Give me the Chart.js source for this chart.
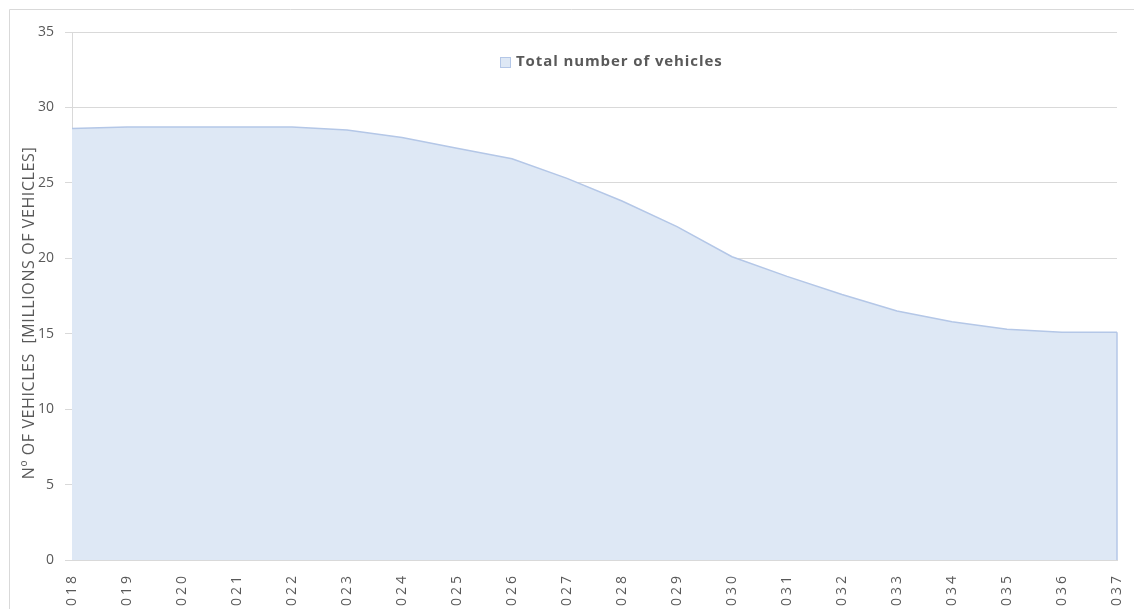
<!DOCTYPE html>
<html>
<head>
<meta charset="utf-8">
<title>Total number of vehicles</title>
<script src="https://cdn.jsdelivr.net/npm/chart.js@4.4.1/dist/chart.umd.min.js"></script>
<style>
    html, body { margin: 0; padding: 0; background: #fff; overflow: hidden; }
    #wrap { width: 1134px; height: 609px; overflow: hidden; }
</style>
</head>
<body>
<div id="wrap">
    <canvas id="areaChart" width="1134" height="650"></canvas>
</div>
<script>
var anios = ['2018', '2019', '2020', '2021', '2022', '2023', '2024', '2025', '2026', '2027',
             '2028', '2029', '2030', '2031', '2032', '2033', '2034', '2035', '2036', '2037'];
var totalVehiculos = [28.6, 28.7, 28.7, 28.7, 28.7, 28.5, 28.0, 27.3, 26.6, 25.3,
                      23.8, 22.1, 20.1, 18.8, 17.6, 16.5, 15.8, 15.3, 15.1, 15.1];
var etiquetaSerie = 'Total number of vehicles';
var tituloEjeY = 'Nº OF VEHICLES  [MILLIONS OF VEHICLES]';
var ejeYMin = 0;
var ejeYMax = 35;
var ejeYPaso = 5;

var colorTexto = '#595959';
var colorRejilla = '#d9d9d9';
var colorRelleno = '#dee8f5';
var colorLinea = '#b4c7e7';
var fuente = "'Open Sans', 'Liberation Sans', sans-serif";

// marco exterior, borde derecho del area, leyenda y titulo del eje Y
var pluginMarco = {
    id: 'marco',
    beforeDraw: function (chart) {
        var ctx = chart.ctx;
        ctx.save();
        ctx.strokeStyle = colorRejilla;
        ctx.lineWidth = 1;
        ctx.beginPath();
        ctx.moveTo(9.5, chart.height);
        ctx.lineTo(9.5, 9.5);
        ctx.lineTo(chart.width, 9.5);
        ctx.stroke();
        ctx.restore();

        // etiquetas del eje X con espaciado entre letras como en Excel
        var ejeX = chart.scales.x;
        if (ejeX && !ejeX._espaciado) {
            var original = ejeX.drawLabels;
            ejeX.drawLabels = function (area) {
                this.ctx.save();
                this.ctx.letterSpacing = '3px';
                original.call(this, area);
                this.ctx.restore();
            };
            ejeX._espaciado = true;
        }
    },
    afterDatasetsDraw: function (chart) {
        var ctx = chart.ctx;
        var puntos = chart.getDatasetMeta(0).data;
        var base = chart.scales.y.getPixelForValue(0);
        var ultimo = puntos[puntos.length - 1];
        ctx.save();
        ctx.strokeStyle = colorLinea;
        ctx.lineWidth = 1.5;
        ctx.beginPath();
        ctx.moveTo(ultimo.x, ultimo.y);
        ctx.lineTo(ultimo.x, base);
        ctx.stroke();
        ctx.restore();
    },
    afterDraw: function (chart) {
        var ctx = chart.ctx;

        // leyenda
        ctx.save();
        ctx.fillStyle = colorRelleno;
        ctx.strokeStyle = colorLinea;
        ctx.lineWidth = 1;
        ctx.fillRect(500, 57, 10, 10);
        ctx.strokeRect(500.5, 57.5, 10, 10);
        ctx.fillStyle = colorTexto;
        ctx.font = 'bold 15px ' + fuente;
        ctx.letterSpacing = '0.9px';
        ctx.textAlign = 'left';
        ctx.textBaseline = 'middle';
        ctx.fillText(etiquetaSerie, 516, 62);
        ctx.restore();

        // titulo del eje Y
        ctx.save();
        ctx.translate(29, 313);
        ctx.rotate(-Math.PI / 2);
        ctx.fillStyle = colorTexto;
        ctx.font = '16px ' + fuente;
        ctx.letterSpacing = '0.6px';
        ctx.textAlign = 'center';
        ctx.textBaseline = 'middle';
        ctx.fillText(tituloEjeY, 0, 0);
        ctx.restore();
    }
};

var CrearChartArea = function () {
    var canvas = document.getElementById('areaChart');
    var chartArea = new Chart(canvas, {
        type: 'line',
        data: {
            labels: anios,
            datasets: [{
                label: etiquetaSerie,
                data: totalVehiculos,
                fill: 'origin',
                backgroundColor: colorRelleno,
                borderColor: colorLinea,
                borderWidth: 1.5,
                pointRadius: 0,
                tension: 0
            }]
        },
        options: {
            responsive: false,
            animation: false,
            devicePixelRatio: 1,
            layout: { padding: { top: 32, right: 17, left: 0, bottom: 0 } },
            plugins: {
                legend: { display: false },
                tooltip: { enabled: false }
            },
            scales: {
                x: {
                    offset: false,
                    grid: { display: false },
                    border: { display: true, color: colorRejilla },
                    ticks: {
                        color: colorTexto,
                        font: { family: fuente, size: 14 },
                        minRotation: 90,
                        maxRotation: 90,
                        autoSkip: false,
                        padding: 5
                    },
                    afterFit: function (escala) {
                        escala.height = 90;
                        escala.paddingLeft = 0;
                        escala.paddingRight = 0;
                    }
                },
                y: {
                    min: ejeYMin,
                    max: ejeYMax,
                    grid: { color: colorRejilla, tickLength: 7 },
                    border: { display: true, color: colorRejilla },
                    ticks: {
                        stepSize: ejeYPaso,
                        color: colorTexto,
                        font: { family: fuente, size: 14 },
                        padding: 11
                    },
                    afterFit: function (escala) {
                        escala.width = 72;
                        escala.paddingTop = 0;
                        escala.paddingBottom = 0;
                    }
                }
            }
        },
        plugins: [pluginMarco]
    });
    return chartArea;
};

CrearChartArea();
</script>
</body>
</html>
